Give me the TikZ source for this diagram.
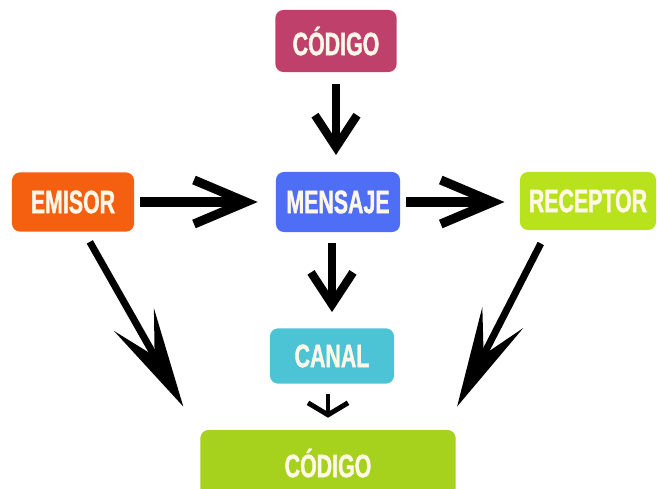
\documentclass[tikz,border=0pt]{standalone}
\usepackage{fontspec}
\newfontfamily\cajafont{Liberation Sans Bold}[FakeStretch=0.66, FakeBold=1.2]
\usetikzlibrary{arrows.meta}
\definecolor{rosa}{HTML}{C0406C}
\definecolor{naranja}{HTML}{F4600F}
\definecolor{azul}{HTML}{4D6EF5}
\definecolor{lima}{HTML}{B8E21C}
\definecolor{celeste}{HTML}{4DC3D6}
\definecolor{limaosc}{HTML}{A6D11D}
\definecolor{crema}{HTML}{FFF8E8}
\tikzset{every node/.style={align=center}, >= latex,
  caja/.style={rounded corners=0.2cm, inner sep=0pt, text=crema,
    font=\cajafont\fontsize{23}{26}\selectfont},
  flechah/.style={line width=6.5pt, -{Straight Barb[length=1.3cm, width=1.1cm]}},
  flechav/.style={line width=6pt, -{Straight Barb[length=0.8cm, width=1.05cm]}},
  flechac/.style={line width=3.5pt, -{Straight Barb[length=0.3cm, width=1cm]}},
  flechad/.style={line width=5pt, -{Stealth[length=2.5cm, width=1.15cm, inset=1.05cm, line width=0pt]}}}

\begin{document}
\begin{tikzpicture}[x=0.025cm, y=-0.025cm]
  \useasboundingbox (0,0) rectangle (657,488);
  \node[caja, fill=rosa, minimum width=3.03cm, minimum height=1.55cm] (codigo) at (336,41) {CÓDIGO};
  \node[caja, fill=naranja, minimum width=3.05cm, minimum height=1.48cm] (emisor) at (73,202) {EMISOR};
  \node[caja, fill=azul, minimum width=3.1cm, minimum height=1.5cm] (mensaje) at (338,202) {MENSAJE};
  \node[caja, fill=lima, minimum width=3.4cm, minimum height=1.45cm] (receptor) at (588,201) {RECEPTOR};
  \node[caja, fill=celeste, minimum width=3.1cm, minimum height=1.38cm] (canal) at (332,356) {CANAL};
  \node[caja, fill=limaosc, minimum width=6.38cm, minimum height=1.65cm] (codigob) at (328,463) {CÓDIGO};

  \draw[flechav, shorten <=0.3cm, shorten >=0.42cm] (codigo) -- (codigo |- mensaje.north);
  \draw[flechah, shorten <=0.15cm, shorten >=0.45cm] (emisor) -- (mensaje);
  \draw[flechah, shorten <=0.15cm, shorten >=0.38cm] (mensaje) -- (receptor.west |- mensaje);
  \draw[flechav, shorten <=0.28cm, shorten >=0.4cm] (mensaje.south -| canal) -- (canal);
  \draw[flechac, shorten <=0.25cm, shorten >=0.3cm] ([xshift=-0.1cm]canal.south) -- ([xshift=-0.1cm]canal.south |- codigob.north);
  \draw[flechad] ([xshift=0.42cm, yshift=-0.25cm]emisor.south) -- ([xshift=-0.42cm, yshift=0.58cm]codigob.north west);
  \draw[flechad] ([xshift=-1.18cm, yshift=-0.33cm]receptor.south) -- ([xshift=0.03cm, yshift=0.58cm]codigob.north east);
\end{tikzpicture}
\end{document}
